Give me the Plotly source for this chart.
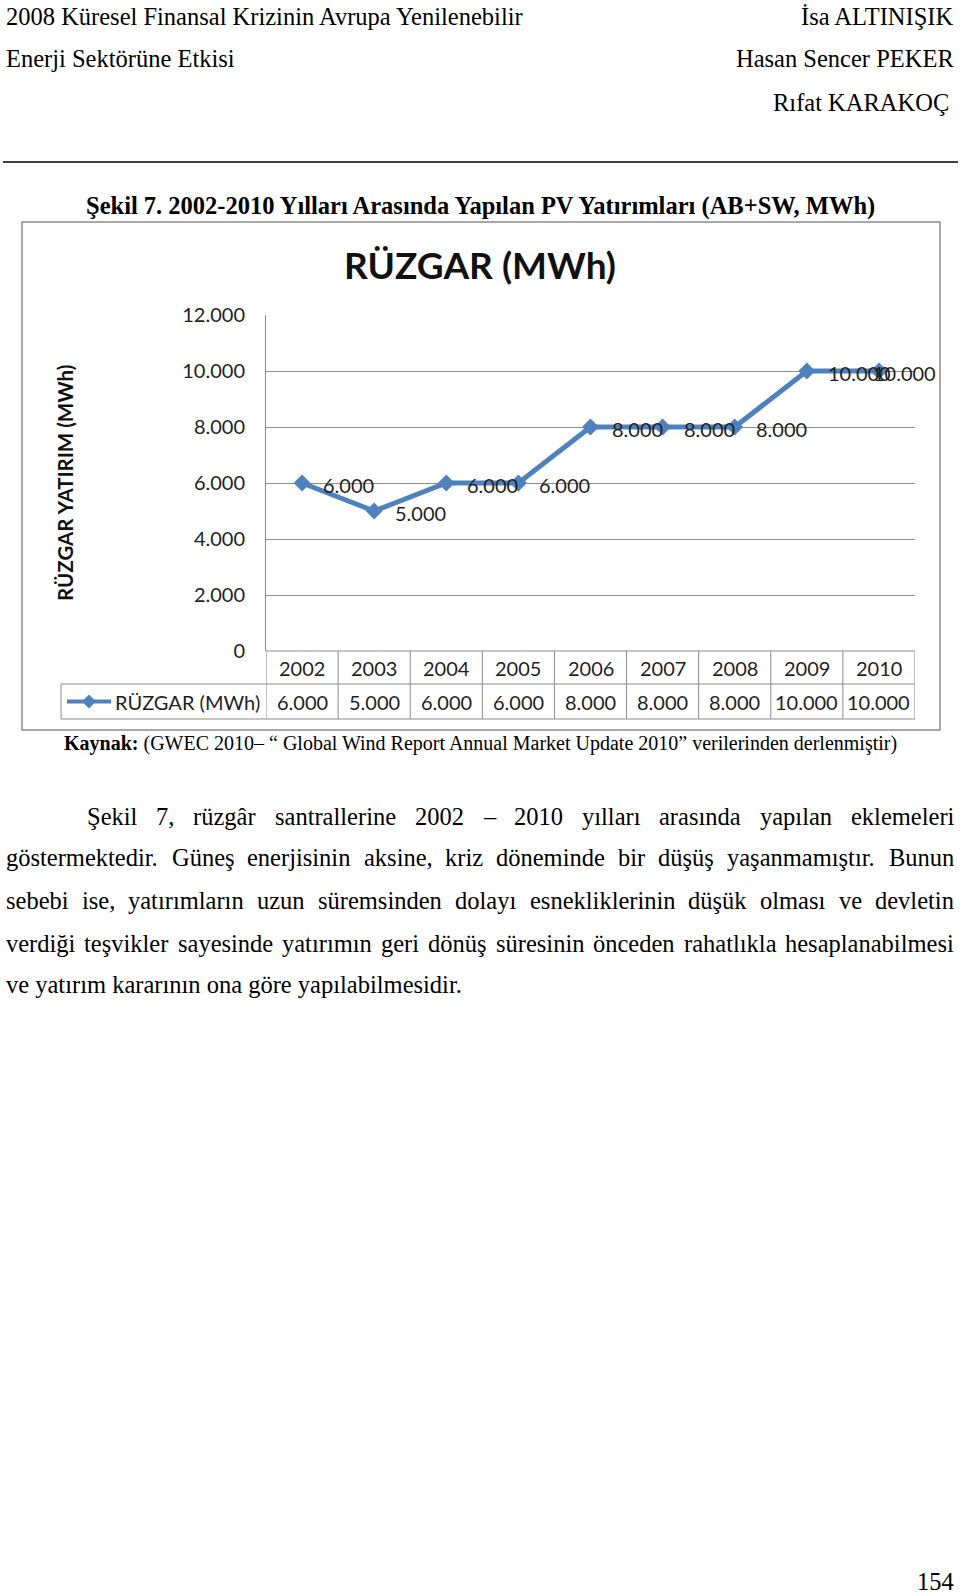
import plotly.graph_objects as go

# ---------------- data ----------------
years = ["2002", "2003", "2004", "2005", "2006", "2007", "2008", "2009", "2010"]
wind_mwh = [6000, 5000, 6000, 6000, 8000, 8000, 8000, 10000, 10000]
value_labels = ["6.000", "5.000", "6.000", "6.000", "8.000", "8.000", "8.000", "10.000", "10.000"]
y_tick_vals = [0, 2000, 4000, 6000, 8000, 10000, 12000]
y_tick_text = ["0", "2.000", "4.000", "6.000", "8.000", "10.000", "12.000"]
series_name = "RÜZGAR (MWh)"
chart_title = "RÜZGAR (MWh)"
y_title = "RÜZGAR YATIRIM (MWh)"

header_left = ["2008 Küresel Finansal Krizinin Avrupa Yenilenebilir", "Enerji Sektörüne Etkisi"]
header_right = ["İsa ALTINIŞIK", "Hasan Sencer PEKER", "Rıfat KARAKOÇ"]
caption = "Şekil 7. 2002-2010 Yılları Arasında Yapılan PV Yatırımları (AB+SW, MWh)"
source_bold = "Kaynak:"
source_text = " (GWEC 2010– “ Global Wind Report Annual Market Update 2010” verilerinden derlenmiştir)"
paragraph_lines = [
    "Şekil 7, rüzgâr santrallerine 2002 – 2010 yılları arasında yapılan eklemeleri",
    "göstermektedir. Güneş enerjisinin aksine, kriz döneminde bir düşüş yaşanmamıştır. Bunun",
    "sebebi ise, yatırımların uzun süremsinden dolayı esnekliklerinin düşük olması ve devletin",
    "verdiği teşvikler sayesinde yatırımın geri dönüş süresinin önceden rahatlıkla hesaplanabilmesi",
    "ve yatırım kararının ona göre yapılabilmesidir.",
]
page_number = "154"

# ---------------- helpers ----------------
W, H = 960, 1594
def X(p): return p / W
def Y(p): return 1 - p / H

SERIF = "Liberation Serif"
SANS = "Lato"
LINE_BLUE = "#4F81BD"
GRID = "#8c8c8c"
TXT = "#1f1f1f"

# Times / Liberation Serif advance widths (per 1000 em)
TW = {' ': 250, ',': 250, '.': 250, '–': 500, '-': 333, ':': 278, '(': 333, ')': 333,
      '“': 444, '”': 444}
for d in "0123456789":
    TW[d] = 500
TW.update({'A': 722, 'B': 667, 'C': 667, 'D': 722, 'E': 611, 'F': 556, 'G': 722, 'H': 722,
           'I': 333, 'İ': 333, 'J': 389, 'K': 722, 'L': 611, 'M': 889, 'N': 722, 'O': 722,
           'P': 556, 'R': 667, 'S': 556, 'Ş': 556, 'T': 611, 'U': 722, 'Ü': 722, 'V': 722,
           'W': 944, 'Y': 722, 'Z': 611, 'Ç': 667, 'Ö': 722})
TW.update({'a': 444, 'â': 444, 'b': 500, 'c': 444, 'ç': 444, 'd': 500, 'e': 444, 'f': 333,
           'g': 500, 'ğ': 500, 'h': 500, 'i': 278, 'ı': 278, 'j': 278, 'k': 500, 'l': 278,
           'm': 778, 'n': 500, 'o': 500, 'ö': 500, 'p': 500, 'q': 500, 'r': 333, 's': 389,
           'ş': 389, 't': 278, 'u': 500, 'ü': 500, 'v': 500, 'w': 722, 'x': 500, 'y': 500,
           'z': 444})

def text_w(s, size):
    return sum(TW.get(c, 500) for c in s) * size / 1000.0

fig = go.Figure()

# ---------------- chart ----------------
fig.add_trace(go.Scatter(
    x=years, y=wind_mwh, mode="lines+markers", name=series_name,
    line=dict(color=LINE_BLUE, width=5),
    marker=dict(symbol="diamond", size=13, color=LINE_BLUE),
    showlegend=False, cliponaxis=False, hoverinfo="skip"))

cat_pos = list(range(len(years)))

for xi, yv, lab in zip(cat_pos, wind_mwh, value_labels):
    # the last label is pulled back inside the chart, as in the original
    shift = -8 if xi == cat_pos[-1] else 19
    fig.add_annotation(x=xi, y=yv, xref="x", yref="y", text=lab, showarrow=False,
                       xanchor="left", yanchor="middle", xshift=shift, yshift=-2,
                       font=dict(family=SANS, size=20, color=TXT))

PLOT_L, PLOT_R, PLOT_T, PLOT_B = 266, 915, 315, 651
ROW1_B, ROW2_B = 684, 719

fig.update_layout(
    template="none",
    width=W, height=H, margin=dict(l=0, r=0, t=0, b=0, pad=0, autoexpand=False),
    paper_bgcolor="white", plot_bgcolor="white", showlegend=False,
    xaxis=dict(type="category", domain=[X(PLOT_L), X(PLOT_R)], range=[-0.5, len(years) - 0.5],
               showticklabels=False, showgrid=False, zeroline=False, showline=False, ticks="",
               automargin=False),
    yaxis=dict(domain=[Y(PLOT_B), Y(PLOT_T)], range=[0, 12000],
               tickvals=y_tick_vals, ticktext=y_tick_text,
               showgrid=True, gridcolor=GRID, gridwidth=1,
               showline=True, linecolor=GRID, linewidth=1, zeroline=False,
               ticks="", ticklabelstandoff=16, automargin=False,
               tickfont=dict(family=SANS, size=20, color=TXT)),
)

fig.add_annotation(x=X(480), y=Y(265), xref="paper", yref="paper", showarrow=False,
                   text="<b>" + chart_title + "</b>", xanchor="center", yanchor="middle",
                   font=dict(family=SANS, size=37, color="#111111"))
fig.add_annotation(x=X(65), y=Y(483), xref="paper", yref="paper", showarrow=False,
                   text="<b>" + y_title + "</b>", textangle=-90, xanchor="center", yanchor="middle",
                   font=dict(family=SANS, size=20.5, color="#111111"))

shapes = []
shapes.append(dict(type="rect", xref="paper", yref="paper", x0=X(22), x1=X(940), y0=Y(730), y1=Y(222),
                   line=dict(color=GRID, width=1.5)))
for i in range(len(years) + 1):
    shapes.append(dict(type="line", xref="x", yref="paper", x0=i - 0.5, x1=i - 0.5,
                       y0=Y(ROW2_B), y1=Y(PLOT_B), line=dict(color=GRID, width=1)))
shapes.append(dict(type="line", xref="x", yref="paper", x0=-0.5, x1=len(years) - 0.5,
                   y0=Y(PLOT_B), y1=Y(PLOT_B), line=dict(color=GRID, width=1)))
for yy in (ROW1_B, ROW2_B):
    shapes.append(dict(type="line", xref="paper", yref="paper", x0=X(61), x1=X(PLOT_R),
                       y0=Y(yy), y1=Y(yy), line=dict(color=GRID, width=1)))
shapes.append(dict(type="line", xref="paper", yref="paper", x0=X(61), x1=X(61),
                   y0=Y(ROW2_B), y1=Y(ROW1_B), line=dict(color=GRID, width=1)))
ly = (ROW1_B + ROW2_B) / 2
shapes.append(dict(type="line", xref="paper", yref="paper", x0=X(67), x1=X(111),
                   y0=Y(ly), y1=Y(ly), line=dict(color=LINE_BLUE, width=4)))
cx, d = 89, 7
shapes.append(dict(type="path", xref="paper", yref="paper",
                   path=f"M {X(cx - d)} {Y(ly)} L {X(cx)} {Y(ly - d)} L {X(cx + d)} {Y(ly)} L {X(cx)} {Y(ly + d)} Z",
                   fillcolor=LINE_BLUE, line=dict(color=LINE_BLUE, width=0)))
shapes.append(dict(type="line", xref="paper", yref="paper", x0=X(3), x1=X(958),
                   y0=Y(162), y1=Y(162), line=dict(color="black", width=1.5)))
fig.update_layout(shapes=shapes)

fig.add_annotation(x=X(113), y=Y(ly), xref="paper", yref="paper", showarrow=False,
                   text=series_name, xanchor="left", yanchor="middle",
                   font=dict(family=SANS, size=20, color=TXT))
for xi, lab in zip(cat_pos, years):
    fig.add_annotation(x=xi, y=Y((PLOT_B + ROW1_B) / 2), xref="x", yref="paper", showarrow=False,
                       text=lab, xanchor="center", yanchor="middle",
                       font=dict(family=SANS, size=20, color=TXT))
for xi, lab in zip(cat_pos, value_labels):
    fig.add_annotation(x=xi, y=Y(ly), xref="x", yref="paper", showarrow=False,
                       text=lab, xanchor="center", yanchor="middle",
                       font=dict(family=SANS, size=20, color=TXT))

# ---------------- page text ----------------
def page_text(txt, x, y, anchor="left", size=24.5, bold=False):
    t = "<b>" + txt + "</b>" if bold else txt
    fig.add_annotation(x=X(x), y=Y(y), xref="paper", yref="paper", showarrow=False,
                       text=t, xanchor=anchor, yanchor="middle",
                       font=dict(family=SERIF, size=size, color="black"))

page_text(header_left[0], 4, 17)
page_text(header_left[1], 4, 59)
page_text(header_right[0], 956, 17, "right")
page_text(header_right[1], 956, 59, "right")
page_text(header_right[2], 951, 102, "right")
page_text(caption, 480, 206, "center", bold=True)
page_text("<b>" + source_bold + "</b>" + source_text, 480, 743, "center", size=20)

def add_justified(line, x0, x1, yc, size=24.5):
    words = line.split(" ")
    total = sum(text_w(w, size) for w in words)
    gap = (x1 - x0 - total) / (len(words) - 1)
    x = x0
    for w in words:
        page_text(w, x, yc, "left", size)
        x += text_w(w, size) + gap

para_y = [816, 857, 900, 943, 984]
add_justified(paragraph_lines[0], 85, 952, para_y[0])
for ln, yy in zip(paragraph_lines[1:4], para_y[1:4]):
    add_justified(ln, 4, 952, yy)
page_text(paragraph_lines[4], 4, para_y[4])
page_text(page_number, 956, 1581, "right")

fig.write_html(
    "out.html",
    config={"displayModeBar": False, "responsive": False},
    post_script=("document.documentElement.style.margin='0';"
                 "document.body.style.margin='0';document.body.style.padding='0';"
                 "document.body.style.overflow='hidden';"),
)
